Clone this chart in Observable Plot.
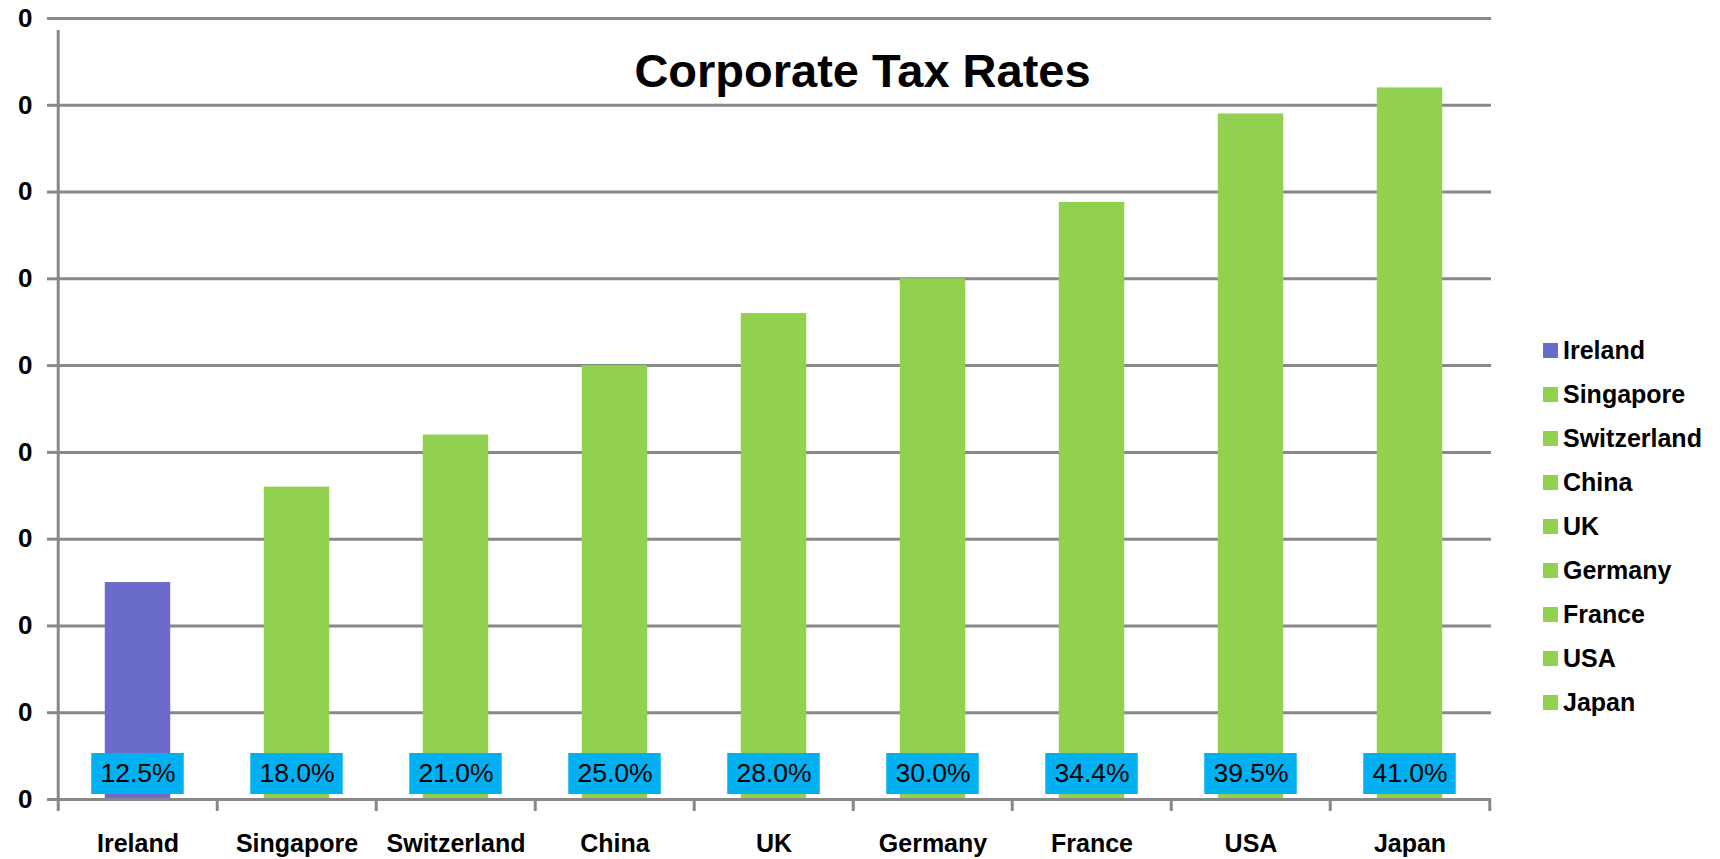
<!DOCTYPE html>
<html>
<head>
<meta charset="utf-8">
<script src="https://cdn.jsdelivr.net/npm/d3@7"></script>
<script src="https://cdn.jsdelivr.net/npm/@observablehq/plot@0.6"></script>
<style>
  html, body { margin: 0; padding: 0; background: #fff; }
  #wrap { position: relative; width: 1720px; height: 859px; font-family: "Liberation Sans", Arial, sans-serif; }
  #legend { position: absolute; left: 1543px; top: 328px; }
  .li { position: absolute; left: 0; height: 44px; display: flex; align-items: center; white-space: nowrap;
        font-weight: bold; font-size: 25px; color: #000; }
  .sw { width: 15px; height: 15px; margin-right: 5px; }
</style>
</head>
<body>
<div id="wrap"><div id="legend"></div></div>
<script>
const countries = ["Ireland", "Singapore", "Switzerland", "China", "UK", "Germany", "France", "USA", "Japan"];
const rates = [12.5, 18.0, 21.0, 25.0, 28.0, 30.0, 34.4, 39.5, 41.0];
const yTicks = [0, 5, 10, 15, 20, 25, 30, 35, 40, 45];
const yTickLabels = ["0", "0", "0", "0", "0", "0", "0", "0", "0", "0"];
const titleText = "Corporate Tax Rates";

const highlight = "Ireland";
const purple = "#6B6BCC", green = "#92D050", labelBg = "#00B0F0", gridGray = "#888888";

const data = countries.map((c, i) => ({country: c, rate: rates[i]}));
const colorOf = c => c === highlight ? purple : green;

const W = 1720, H = 859, mL = 55, mR = 229, mT = 18, mB = 60;
const bw = (W - mL - mR) / countries.length;
const barInset = (bw - 66) / 2;
const boxInset = (bw - 93) / 2;

const chart = Plot.plot({
  width: W, height: H,
  marginLeft: mL, marginRight: mR, marginTop: mT, marginBottom: mB,
  x: {domain: countries, padding: 0},
  y: {domain: [0, 45]},
  style: {fontFamily: "'Liberation Sans', Arial, sans-serif", background: "#fff", color: "#000"},
  marks: [
    Plot.gridY(yTicks, {stroke: gridGray, strokeOpacity: 1, strokeWidth: 3}),
    Plot.axisY({ticks: yTicks, tickFormat: d => yTickLabels[yTicks.indexOf(d)], tickSize: 8, tickPadding: 15,
      fontSize: 26, fontWeight: "bold", stroke: gridGray, strokeWidth: 3, fill: "#000", label: null}),
    Plot.axisX({tickSize: 0, tickPadding: 35, fontSize: 25, fontWeight: "bold", fill: "#000", label: null}),
    Plot.barY(data, {x: "country", y: "rate", fill: d => colorOf(d.country), insetLeft: barInset, insetRight: barInset}),
    Plot.ruleY([0], {stroke: gridGray, strokeWidth: 3}),
    Plot.ruleX(countries, {x: d => d, dx: -bw / 2, y1: 0, y2: 0, insetBottom: -12, stroke: gridGray, strokeWidth: 3}),
    Plot.ruleX([countries[countries.length - 1]], {x: d => d, dx: bw / 2, y1: 0, y2: 0, insetBottom: -12, stroke: gridGray, strokeWidth: 3}),
    Plot.ruleX([countries[0]], {x: d => d, dx: -bw / 2, y1: 0, y2: 45, insetBottom: -12, stroke: gridGray, strokeWidth: 3}),
    Plot.barY(data, {x: "country", y1: 0, y2: 0, insetTop: -46, insetBottom: 5, insetLeft: boxInset, insetRight: boxInset, fill: labelBg}),
    Plot.text(data, {x: "country", y: 0, dy: -26, text: d => d.rate.toFixed(1) + "%", fontSize: 26.5, fill: "#000"}),
    Plot.text([titleText], {frameAnchor: "top", dx: 89, dy: 35, fontSize: 47, fontWeight: "bold", fill: "#000"})
  ]
});
document.getElementById("wrap").prepend(chart);

const legend = document.getElementById("legend");
countries.forEach((c, i) => {
  const item = document.createElement("div");
  item.className = "li";
  item.style.top = (i * 44.1) + "px";
  item.innerHTML = `<div class="sw" style="background:${colorOf(c)}"></div><span>${c}</span>`;
  legend.appendChild(item);
});
</script>
</body>
</html>
